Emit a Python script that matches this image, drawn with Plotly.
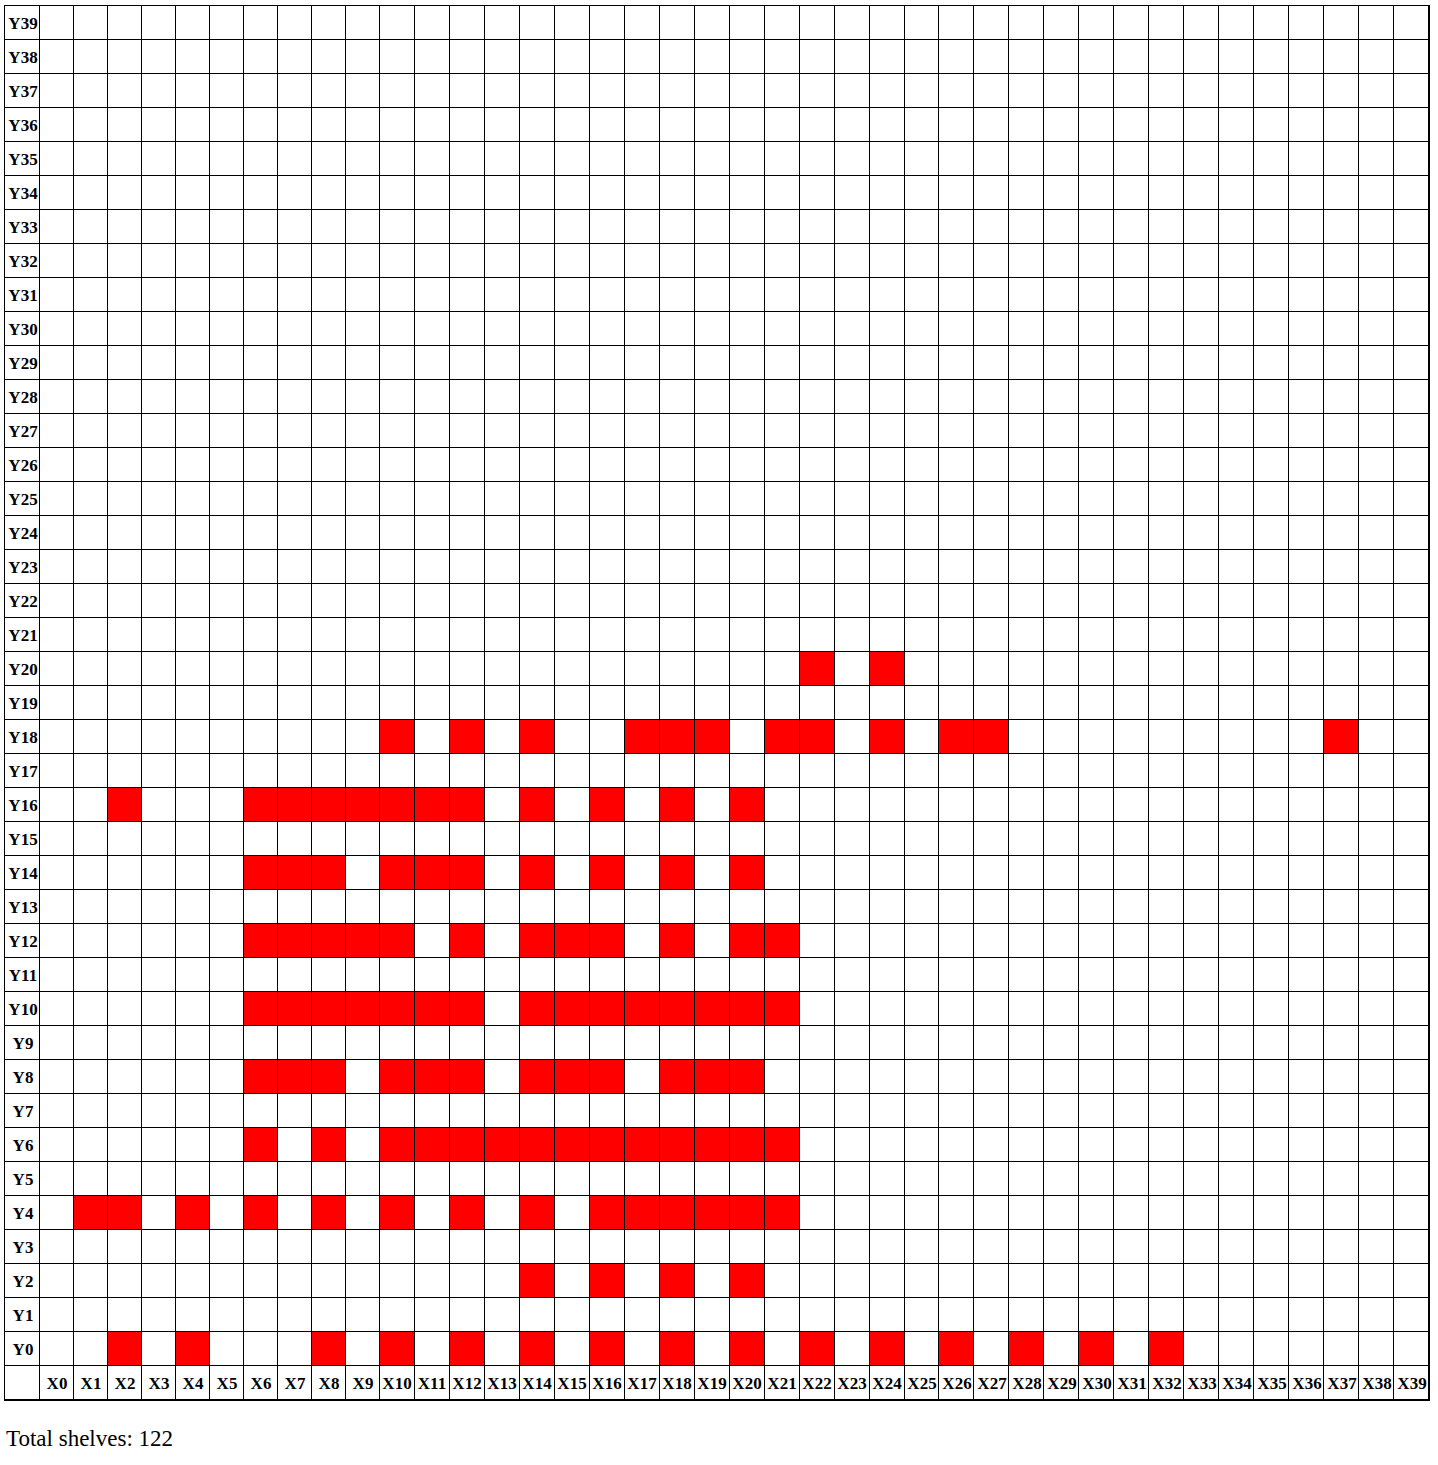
import plotly.graph_objects as go

# ---------------- data ----------------
x_labels = ["X0", "X1", "X2", "X3", "X4", "X5", "X6", "X7", "X8", "X9",
            "X10", "X11", "X12", "X13", "X14", "X15", "X16", "X17", "X18", "X19",
            "X20", "X21", "X22", "X23", "X24", "X25", "X26", "X27", "X28", "X29",
            "X30", "X31", "X32", "X33", "X34", "X35", "X36", "X37", "X38", "X39"]
y_labels = ["Y0", "Y1", "Y2", "Y3", "Y4", "Y5", "Y6", "Y7", "Y8", "Y9",
            "Y10", "Y11", "Y12", "Y13", "Y14", "Y15", "Y16", "Y17", "Y18", "Y19",
            "Y20", "Y21", "Y22", "Y23", "Y24", "Y25", "Y26", "Y27", "Y28", "Y29",
            "Y30", "Y31", "Y32", "Y33", "Y34", "Y35", "Y36", "Y37", "Y38", "Y39"]

# shelf positions: row (Y index) -> list of column (X index)
shelf_rows = [20, 18, 16, 14, 12, 10, 8, 6, 4, 2, 0]
shelf_cols = [
    [22, 24],
    [10, 12, 14, 17, 18, 19, 21, 22, 24, 26, 27, 37],
    [2, 6, 7, 8, 9, 10, 11, 12, 14, 16, 18, 20],
    [6, 7, 8, 10, 11, 12, 14, 16, 18, 20],
    [6, 7, 8, 9, 10, 12, 14, 15, 16, 18, 20, 21],
    [6, 7, 8, 9, 10, 11, 12, 14, 15, 16, 17, 18, 19, 20, 21],
    [6, 7, 8, 10, 11, 12, 14, 15, 16, 18, 19, 20],
    [6, 8, 10, 11, 12, 13, 14, 15, 16, 17, 18, 19, 20, 21],
    [1, 2, 4, 6, 8, 10, 12, 14, 16, 17, 18, 19, 20, 21],
    [14, 16, 18, 20],
    [2, 4, 8, 10, 12, 14, 16, 18, 20, 22, 24, 26, 28, 30, 32],
]

# ---------------- layout geometry (style) ----------------
nx = len(x_labels)
ny = len(y_labels)
col_w = [35.0] + [34.0] * 10 + [1049.0 / 30] * (nx - 10)
x_edges = [0.0]
for w in col_w:
    x_edges.append(x_edges[-1] + w)
row_h = 34.0
y_edges = [i * row_h for i in range(ny + 2)]

# build matrix: row 0 = X label row, rows 1.. = Y0..Y39 ; col 0 = label column
z = [[0] * (nx + 1) for _ in range(ny + 1)]
text = [[""] * (nx + 1) for _ in range(ny + 1)]
for j, lab in enumerate(x_labels):
    text[0][j + 1] = "<b>" + lab + "</b>"
for i, lab in enumerate(y_labels):
    text[i + 1][0] = "<b>" + lab + "</b>"
total = 0
for r, cols in zip(shelf_rows, shelf_cols):
    for c in cols:
        z[r + 1][c + 1] = 1
        total += 1

fig = go.Figure(go.Heatmap(
    z=z, x=x_edges, y=y_edges, text=text, texttemplate="%{text}",
    textfont=dict(family="Liberation Serif", size=17, color="black"),
    colorscale=[[0, "#ffffff"], [1, "#ff0000"]], zmin=0, zmax=1,
    showscale=False, xgap=1, ygap=1, hoverinfo="skip",
))

plot_w = x_edges[-1]
plot_h = y_edges[-1]
fig.update_layout(
    width=1438, height=1465,
    margin=dict(l=5, t=6, r=1438 - 5 - int(round(plot_w)), b=1465 - 6 - int(plot_h), pad=0),
    plot_bgcolor="black", paper_bgcolor="white",
    xaxis=dict(range=[0, plot_w], showgrid=False, zeroline=False, showticklabels=False,
               ticks="", showline=True, mirror=True, linecolor="black", linewidth=1, fixedrange=True),
    yaxis=dict(range=[0, plot_h], showgrid=False, zeroline=False, showticklabels=False,
               ticks="", showline=True, mirror=True, linecolor="black", linewidth=1, fixedrange=True),
    annotations=[dict(
        text="Total shelves: %d" % total, xref="paper", yref="paper",
        x=-1 / plot_w, y=-38 / plot_h, xanchor="left", yanchor="middle", showarrow=False,
        font=dict(family="Liberation Serif", size=23, color="black"),
    )],
)

fig.write_html("out.html")
